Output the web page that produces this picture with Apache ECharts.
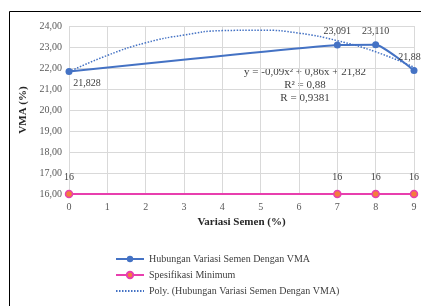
<!DOCTYPE html>
<html lang="en">
<head>
  <meta charset="UTF-8">
  <title>VMA - Variasi Semen</title>
  <script src="https://cdn.jsdelivr.net/npm/echarts@6.0.0/dist/echarts.min.js"></script>
  <style>
    html, body { margin: 0; padding: 0; background: #fff; }
  </style>
</head>
<body>

  <div id="main" style="width: 421px;height:306px;"></div>

  <script type="text/javascript">
    // Data
    const semenX = [0, 7, 8, 9];
    const vmaValues = [21.828, 23.091, 23.110, 21.884];
    const specValues = [16, 16, 16, 16];
    const polyX = [0, 1, 2, 3, 4, 5, 6, 7, 8, 9];
    const polyValues = [21.82, 22.6, 23.2, 23.57, 23.78, 23.8, 23.66, 23.3, 22.77, 22.04];

    const seriesNames = [
      'Hubungan Variasi Semen Dengan VMA',
      'Spesifikasi Minimum',
      'Poly. (Hubungan Variasi Semen Dengan VMA)'
    ];

    const serif = '"Liberation Serif", "Times New Roman", serif';
    const blue = '#4472C4';
    const pink = '#E83FAE';

    let myChart = echarts.init(document.getElementById('main'));

    const vmaData = semenX.map((x, i) => [x, vmaValues[i]]);
    const specData = semenX.map((x, i) => [x, specValues[i]]);
    const polyData = polyX.map((x, i) => [x, polyValues[i]]);

    // label placement per point for the VMA series
    const vmaLabelOffsets = [[18, 0], [0, 0], [0, 0], [-2, 0]];

    let options = {
      animation: false,
      textStyle: { fontFamily: serif },
      grid: { left: 69, right: 7, top: 26, bottom: 112 },
      xAxis: {
        type: 'value',
        min: 0, max: 9, interval: 1,
        name: 'Variasi Semen (%)',
        nameLocation: 'middle',
        nameGap: 22,
        nameTextStyle: { fontFamily: serif, fontWeight: 'bold', fontSize: 11, color: '#262626' },
        axisLine: { show: false },
        axisTick: { show: false },
        axisLabel: { fontFamily: serif, fontSize: 10, color: '#595959', margin: 8 },
        splitLine: { lineStyle: { color: '#D9D9D9' } }
      },
      yAxis: {
        type: 'value',
        min: 16, max: 24, interval: 1,
        name: 'VMA (%)',
        nameLocation: 'middle',
        nameGap: 33,
        nameTextStyle: { fontFamily: serif, fontWeight: 'bold', fontSize: 11, color: '#262626' },
        axisLine: { show: false },
        axisTick: { show: false },
        axisLabel: {
          fontFamily: serif, fontSize: 10, color: '#595959', margin: 7,
          formatter: v => v.toFixed(2).replace('.', ',')
        },
        splitLine: { lineStyle: { color: '#D9D9D9' } }
      },
      legend: {
        orient: 'vertical',
        left: 110,
        top: 249,
        itemGap: 6,
        itemWidth: 28,
        itemHeight: 8,
        textStyle: { fontFamily: serif, fontSize: 10, color: '#404040' },
        data: [
          seriesNames[0],
          seriesNames[1],
          { name: seriesNames[2], itemStyle: { opacity: 0 } }
        ]
      },
      graphic: [
        {
          type: 'rect',
          shape: { x: 9.5, y: 11.5, width: 500, height: 400 },
          style: { fill: 'none', stroke: '#000', lineWidth: 1 },
          silent: true
        },
        {
          type: 'text',
          x: 305, y: 85,
          style: {
            text: 'y = -0,09x² + 0,86x + 21,82\nR² = 0,88\nR = 0,9381',
            fontFamily: serif, fontSize: 11, fill: '#404040',
            align: 'center', verticalAlign: 'middle', lineHeight: 13
          }
        }
      ],
      series: [
        {
          name: seriesNames[2],
          type: 'line',
          data: polyData,
          smooth: true,
          showSymbol: false,
          symbol: 'none',
          lineStyle: { color: blue, width: 1.5, type: [1.5, 1.5] },
          itemStyle: { color: blue },
          z: 1
        },
        {
          name: seriesNames[0],
          type: 'line',
          data: vmaData,
          smooth: 0.15,
          symbol: 'circle',
          symbolSize: 7,
          lineStyle: { color: blue, width: 2 },
          itemStyle: { color: blue },
          label: {
            show: true,
            fontFamily: serif, fontSize: 10, color: '#404040',
            formatter: p => p.value[1].toFixed(3).replace('.', ',')
          },
          z: 3
        },
        {
          name: seriesNames[1],
          type: 'line',
          data: specData,
          symbol: 'circle',
          symbolSize: 7,
          lineStyle: { color: pink, width: 2 },
          itemStyle: { color: '#F47C3C', borderColor: pink, borderWidth: 1.5 },
          label: {
            show: true,
            position: 'top',
            distance: 7,
            fontFamily: serif, fontSize: 10, color: '#404040',
            formatter: p => String(p.value[1])
          },
          z: 3
        }
      ]
    };

    // per point label position for VMA series
    options.series[1].data = vmaData.map((d, i) => ({
      value: d,
      label: {
        position: i === 0 ? 'bottom' : 'top',
        distance: i === 0 ? 3 : 5,
        offset: vmaLabelOffsets[i]
      }
    }));

    myChart.setOption(options);
  </script>
</body>
</html>
